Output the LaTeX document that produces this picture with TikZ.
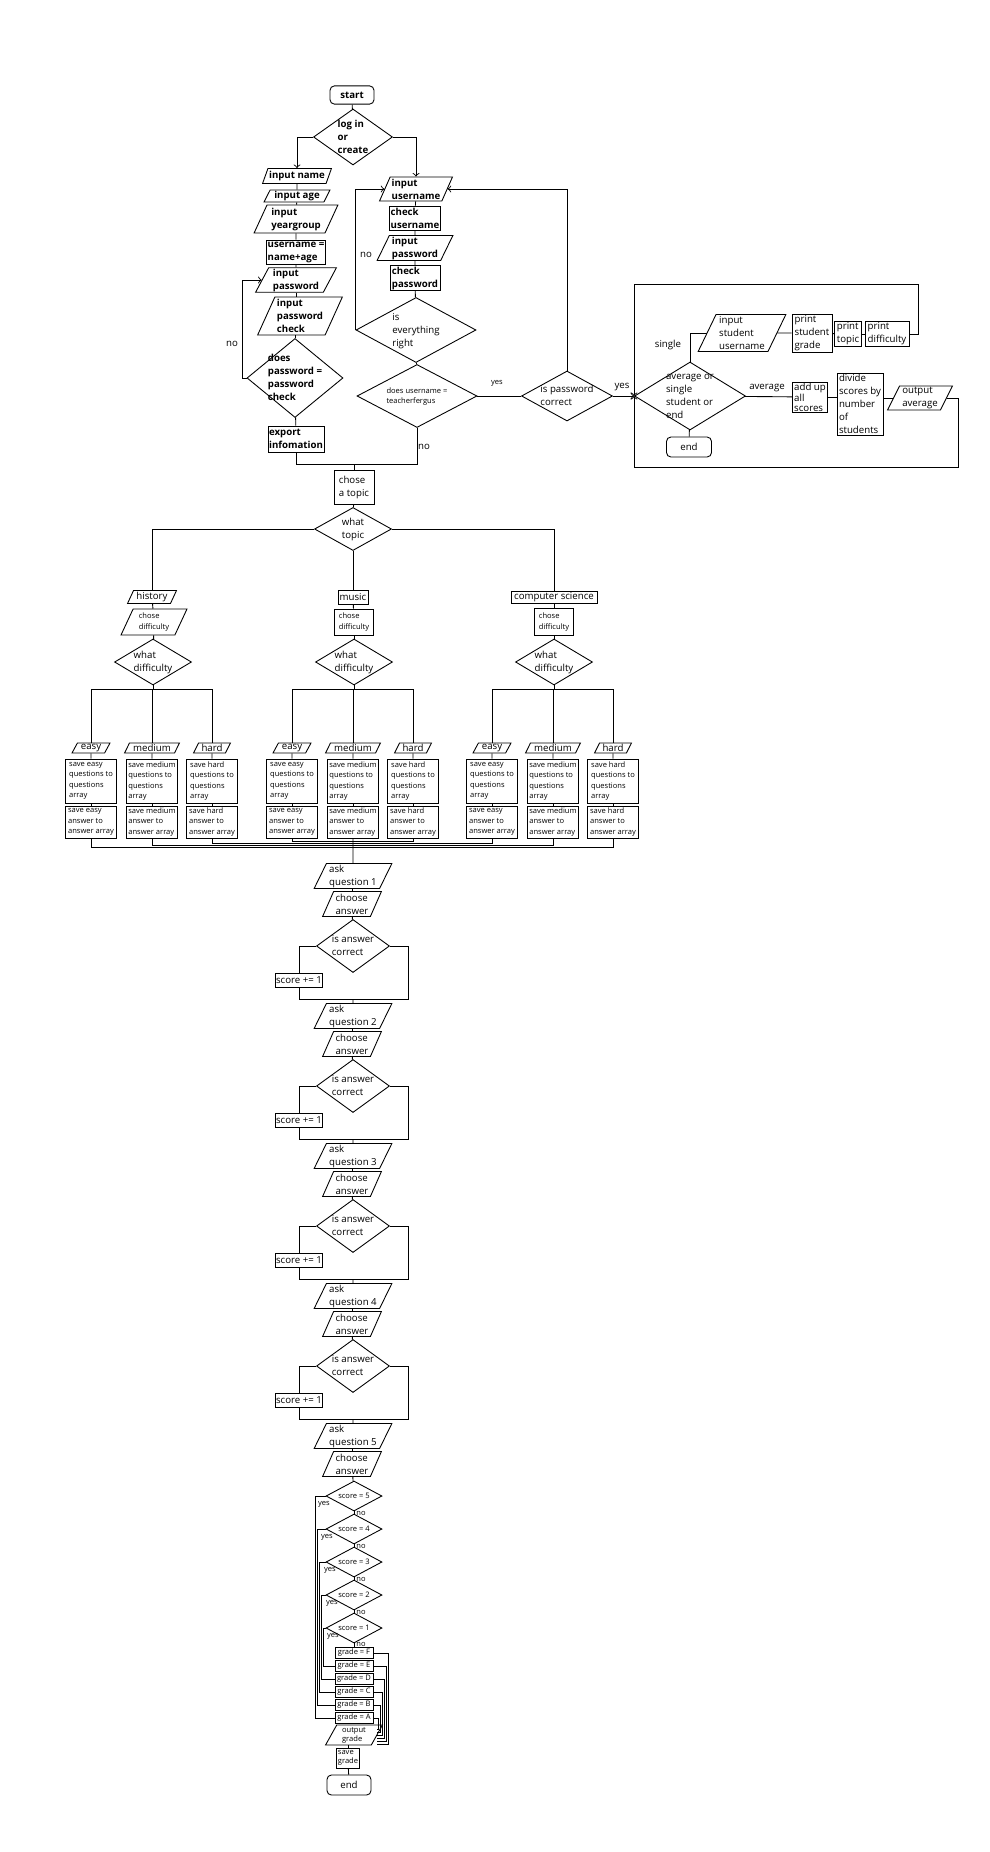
\documentclass[tikz,border=0pt]{standalone}
\usepackage{fontspec}
\setmainfont{Open Sans}
\usepackage{tikz}
\usetikzlibrary{shapes,arrows}
\newcommand\ftn{\fontsize{5.5}{7.4}\selectfont}
\newcommand\fts{\fontsize{4.3}{6}\selectfont}
\newcommand\dtxt[1]{\smash{\makebox[0pt]{\raisebox{-1.5pt}{\begin{tabular}{@{}l@{}}#1\end{tabular}}}}}
\tikzstyle{block} = [rectangle, draw, inner sep=0.5pt, align=left, font=\ftn]
\tikzstyle{io} = [trapezium, trapezium left angle=65, trapezium right angle=115,
    trapezium stretches=true, draw, inner sep=0.5pt, align=left, font=\ftn]
\tikzstyle{decision} = [diamond, draw, inner sep=0pt, font=\ftn]
\tikzstyle{term} = [rectangle, draw, rounded corners=2.5pt, font=\ftn]
\tikzstyle{strong} = [font=\ftn\bfseries]
\tikzstyle{smalltext} = [font=\fts]
\tikzstyle{tag} = [inner sep=0pt, font=\ftn]
\tikzstyle{line} = [draw, ->]
\begin{document}
\begin{tikzpicture}[x=0.02cm,y=-0.02cm,line width=0.5pt]
\useasboundingbox (0,0) rectangle (990,1852);
      % log in or create
      \node [term, strong, minimum width=0.88cm, minimum height=0.36cm] (start) at (352,95) {start};
      \node [decision, strong, minimum width=1.58cm, minimum height=1.12cm] (logdec) at (353,137) {\dtxt{log in\\or\\create}};

      \node [io, strong, minimum width=1.38cm, minimum height=0.3cm] (inname) at (297,176) {input name};
      \node [io, strong, minimum width=1.32cm, minimum height=0.24cm] (inage) at (297,196) {input age};
      \node [io, strong, minimum width=1.68cm, minimum height=0.56cm] (inyear) at (296,219) {input\\yeargroup};
      \node [block, strong, minimum width=1.14cm, minimum height=0.48cm] (uname) at (296,252) {username =\\name+age};
      \node [io, strong, minimum width=1.62cm, minimum height=0.48cm] (inpass) at (296,280) {input\\password};
      \node [io, strong, minimum width=1.7cm, minimum height=0.76cm] (inpcheck) at (300,316) {input\\password\\check};
      \node [decision, strong, minimum width=1.92cm, minimum height=1.58cm] (pdec) at (295,378) {\dtxt{does\\password =\\password\\check}};
      \node [block, strong, minimum width=1.12cm, minimum height=0.52cm] (export) at (296,439) {export\\infomation};

      \node [io, strong, minimum width=1.46cm, minimum height=0.48cm] (inuser) at (416,189) {input\\username};
      \node [block, strong, minimum width=0.98cm, minimum height=0.48cm] (chkuser) at (415,218) {check\\username};
      \node [io, strong, minimum width=1.52cm, minimum height=0.5cm] (inpw) at (415,248) {input\\password};
      \node [block, strong, minimum width=1cm, minimum height=0.5cm] (chkpw) at (415,278) {check\\password};
      \node [decision, minimum width=2.4cm, minimum height=1.3cm] (alldec) at (416,330) {\dtxt{is\\everything\\right}};
      \node [decision, smalltext, minimum width=2.4cm, minimum height=1.26cm] (teachdec) at (417,396) {\dtxt{does username =\\teacherfergus}};
      \node [decision, minimum width=1.82cm, minimum height=1cm] (pwdec) at (567,396) {\dtxt{is password\\correct}};

      % teacher
      \node [decision, minimum width=2.22cm, minimum height=1.36cm] (avgdec) at (690,396) {\dtxt{average or\\single\\student or\\end}};
      \node [io, minimum width=1.76cm, minimum height=0.74cm] (instu) at (742,333) {input\\student\\username};
      \node [block, minimum width=0.8cm, minimum height=0.76cm] (prgrade) at (812,333) {print\\student\\grade};
      \node [block, minimum width=0.54cm, minimum height=0.5cm] (prtopic) at (848,334) {print\\topic};
      \node [block, minimum width=0.88cm, minimum height=0.5cm] (prdiff) at (887,334) {print\\difficulty};
      \node [term, minimum width=0.9cm, minimum height=0.4cm] (endT) at (689,447) {end};
      \node [block, font=\fontsize{5.5}{5.4}\selectfont, minimum width=0.7cm, minimum height=0.58cm] (addup) at (810,397) {add up\\all\\scores};
      \node [block, minimum width=0.92cm, minimum height=1.24cm] (divide) at (860,404) {divide\\scores by\\number\\of\\students};
      \node [io, minimum width=1.3cm, minimum height=0.48cm] (outavg) at (920,398) {output\\average};

      % topics
      \node [block, minimum width=0.8cm, minimum height=0.68cm] (topic) at (354,487) {chose\\a topic};
      \node [decision, minimum width=1.54cm, minimum height=0.86cm] (topdec) at (353,529) {\dtxt{what\\topic}};
      \node [io, minimum width=0.98cm, minimum height=0.26cm] (top-h) at (152,597) {history};
      \node [io, smalltext, minimum width=1.32cm, minimum height=0.52cm] (diff-h) at (154,622) {chose\\difficulty};
      \node [decision, minimum width=1.54cm, minimum height=0.92cm] (dec-h) at (153,662) {\dtxt{what\\difficulty}};
      \node [block, minimum width=0.6cm, minimum height=0.28cm] (top-m) at (353,597) {music};
      \node [block, smalltext, minimum width=0.78cm, minimum height=0.52cm] (diff-m) at (354,622) {chose\\difficulty};
      \node [decision, minimum width=1.54cm, minimum height=0.92cm] (dec-m) at (354,662) {\dtxt{what\\difficulty}};
      \node [block, minimum width=1.72cm, minimum height=0.24cm] (top-c) at (554,597) {computer science};
      \node [block, smalltext, minimum width=0.78cm, minimum height=0.54cm] (diff-c) at (554,622) {chose\\difficulty};
      \node [decision, minimum width=1.54cm, minimum height=0.92cm] (dec-c) at (554,662) {\dtxt{what\\difficulty}};

      \foreach \tp/\cx in {h/152, m/353, c/553} {
        \draw (dec-\tp.south) -- ++(0,4) coordinate (fork-\tp);
        \foreach \dd/\dx/\dw/\dn in {e/-61/0.76/easy, m/0/1.1/medium, h/60/0.74/hard} {
          \node [io, minimum width=\dw cm, minimum height=0.2cm] (\dd-\tp) at (\cx+\dx,748) {\dn};
          \node [block, smalltext, minimum width=1.02cm, minimum height=0.88cm] (q\dd-\tp) at (\cx+\dx,781) {save \dn\\questions to\\questions\\array};
          \node [block, smalltext, minimum width=1.02cm, minimum height=0.64cm] (a\dd-\tp) at (\cx+\dx,822) {save \dn\\answer to\\answer array};
          \draw (fork-\tp) -| (\dd-\tp.north);
          \draw (\dd-\tp) -- (q\dd-\tp);
          \draw (q\dd-\tp) -- (a\dd-\tp);
        }
      }

      % questions
      \foreach \k in {1,...,5} {
        \pgfmathsetmacro\yy{863+140*(\k-1)}
        \node [io, minimum width=1.56cm, minimum height=0.5cm] (ask\k) at (353,\yy+13) {ask\\question \k};
        \node [io, minimum width=1.18cm, minimum height=0.5cm] (choose\k) at (352,\yy+41) {choose\\answer};
        \draw (ask\k) -- (choose\k);
      }
      \foreach \k in {1,...,4} {
        \pgfmathsetmacro\yy{863+140*(\k-1)}
        \pgfmathtruncatemacro\nk{\k+1}
        \node [decision, minimum width=1.46cm, minimum height=1.06cm] (correct\k) at (353,\yy+83) {\dtxt{is answer\\correct}};
        \node [block, minimum width=0.94cm, minimum height=0.28cm] (score\k) at (299,\yy+117) {score += 1};
        \coordinate (merge\k) at (353,\yy+136);
        \draw (choose\k) -- (correct\k);
        \draw (correct\k.west) -| (score\k.north);
        \draw (score\k.south) |- (merge\k);
        \draw (correct\k.east) -| (408,\yy+136) -- (merge\k);
        \draw (merge\k) -- (ask\nk.north);
      }

      % grades
      \foreach \s/\yy in {5/1496, 4/1529, 3/1562, 2/1595, 1/1628}
        \node [decision, smalltext, minimum width=1.12cm, minimum height=0.6cm] (sc\s) at (354,\yy) {\dtxt{score = \s}};
      \foreach \g/\yy in {F/1653, E/1666, D/1679, C/1692, B/1705, A/1718}
        \node [block, smalltext, inner ysep=0.2pt, minimum width=0.76cm, minimum height=0.22cm] (g\g) at (354,\yy) {grade = \g};
      \node [io, font=\fontsize{4.3}{5.2}\selectfont, minimum width=1.14cm, minimum height=0.4cm] (outgrade) at (354,1735) {output\\grade};
      \node [block, font=\fontsize{4.3}{5.2}\selectfont, minimum width=0.46cm, minimum height=0.4cm] (save) at (348,1758) {save\\grade};
      \node [term, minimum width=0.88cm, minimum height=0.4cm] (endB) at (349,1785) {end};

      % labels
      \node [tag] (no1) at (232,344) {no};
      \node [tag] (no2) at (366,255) {no};
      \node [tag] (no3) at (424,447) {no};
      \node [tag, smalltext] (yes1) at (497,383) {yes};
      \node [tag] (yes2) at (622,387) {yes};
      \node [tag] (single) at (668,345) {single};
      \node [tag] (average) at (767,388) {average};

      \draw (start) -- (logdec);
      \path [line] (logdec.west) -| (inname.north);
      \path [line] (logdec.east) -| (inuser.north);
      \draw (inname) -- (inage);
      \draw (inage) -- (inyear);
      \draw (inyear) -- (uname);
      \draw (uname) -- (inpass);
      \draw (inpass.south) -- (inpass.south |- inpcheck.north);
      \draw (pdec.north |- inpcheck.south) -- (pdec.north);
      \path [line] (pdec.west) -- ++(-4,0) |- (inpass.west);
      \draw (pdec) -- (export);
      \coordinate (join) at (354,464);
      \draw (export.south) |- (join);
      \draw (teachdec.south) |- (join);
      \draw (join) -- (topic.north);

      \draw (inuser) -- (chkuser);
      \draw (chkuser) -- (inpw);
      \draw (inpw) -- (chkpw);
      \draw (chkpw) -- (alldec);
      \draw (alldec) -- (teachdec);
      \path [line] (alldec.west) |- (inuser.west);
      \draw (teachdec) -- (pwdec);
      \path [line] (pwdec.north) |- (inuser.east);
      \path [line] (pwdec) -- (avgdec);

      \draw (avgdec.north) |- (instu.west);
      \draw (instu) -- (prgrade);
      \draw (prgrade) -- (prtopic);
      \draw (prtopic) -- (prdiff);
      \path [line] (prdiff.east) -| (918,284) -| (avgdec.west);
      \draw (avgdec) -- (endT);
      \draw (avgdec) -- (addup);
      \draw (addup.east) -- (addup.east -| divide.west);
      \draw (outavg.west -| divide.east) -- (outavg.west);
      \path [line] (outavg.east) -| (958,467) -| (avgdec.west);

      \draw (topic) -- (topdec);
      \draw (topdec.west) -| (top-h.north);
      \draw (topdec) -- (top-m);
      \draw (topdec.east) -| (top-c.north);
      \draw (top-h) -- (diff-h);
      \draw (diff-h) -- (dec-h);
      \draw (top-m) -- (diff-m);
      \draw (diff-m) -- (dec-m);
      \draw (top-c) -- (diff-c);
      \draw (diff-c) -- (dec-c);

      \draw (ae-h.south) |- (ask1.north |- 0,847);
      \draw (am-h.south) |- (ask1.north |- 0,845);
      \draw (ah-h.south) |- (ask1.north |- 0,843);
      \draw (ae-m.south) |- (ask1.north |- 0,841);
      \draw (am-m.south) -- (ask1.north);
      \draw (ah-m.south) |- (ask1.north |- 0,841);
      \draw (ae-c.south) |- (ask1.north |- 0,843);
      \draw (am-c.south) |- (ask1.north |- 0,845);
      \draw (ah-c.south) |- (ask1.north |- 0,847);

      \draw (choose5) -- (sc5);
      \foreach \a/\b in {sc5/sc4, sc4/sc3, sc3/sc2, sc2/sc1, sc1/gF}
        \draw (\a) -- (\b);
      \foreach \s/\yy in {5/1513, 4/1546, 3/1579, 2/1612, 1/1644}
        \node [tag, smalltext] (no-\s) at (361,\yy) {no};
      \foreach \s/\g/\dx/\lx/\ly in {5/A/10/324/1504, 4/B/8/327/1537, 3/C/6/330/1570, 2/D/4/332/1603, 1/E/2/333/1636} {
        \draw (sc\s.west) -- ++(-\dx,0) |- (g\g.west);
        \node [tag, smalltext] (yes-\s) at (\lx,\ly) {yes};
      }
      \foreach \g/\xx/\yy in {F/388/1744, E/386/1741, D/384/1738, C/382/1735, B/380/1732, A/378/1729}
        \draw (g\g.east) -| (\xx,\yy) -- (outgrade.east |- 0,\yy);
      \draw (save.north) -- (save.north |- outgrade.south);
      \draw (save) -- (endB);
    \end{tikzpicture}
\end{document}
